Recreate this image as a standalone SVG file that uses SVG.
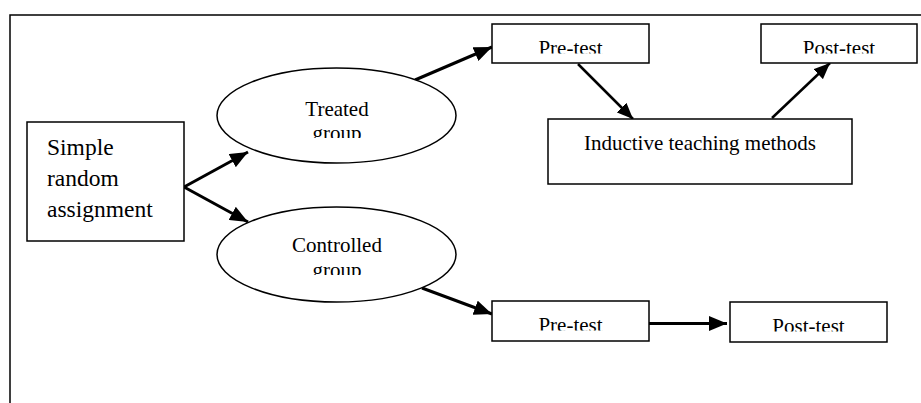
<svg xmlns="http://www.w3.org/2000/svg" width="921" height="403" viewBox="0 0 921 403">
<style>
.box{fill:#fff;stroke:#000;stroke-width:1.5}
.el{fill:#fff;stroke:#000;stroke-width:1.5}
.t{font-family:'Liberation Serif','DejaVu Serif',serif;font-size:21px;fill:#000;text-anchor:middle}
.tl{font-family:'Liberation Serif','DejaVu Serif',serif;font-size:23.5px;fill:#000}
.c{stroke:#000;stroke-width:3;fill:none;marker-end:url(#ah)}
.c2{stroke:#000;stroke-width:2.5;fill:none;marker-end:url(#ah2)}
</style>
<defs>
<marker id="ah" markerWidth="6" markerHeight="5" refX="6" refY="2.5" orient="auto" markerUnits="strokeWidth">
<path d="M0,0 L6,2.5 L0,5 Z" fill="#000"/>
</marker>
<marker id="ah2" markerWidth="6.5" markerHeight="5.5" refX="6.5" refY="2.75" orient="auto" markerUnits="strokeWidth">
<path d="M0,0 L6.5,2.75 L0,5.5 Z" fill="#000"/>
</marker>
<clipPath id="clT"><rect x="217" y="68" width="240" height="70"/></clipPath>
<clipPath id="clC"><rect x="217" y="207" width="240" height="68"/></clipPath>
<clipPath id="clP1"><rect x="492" y="24" width="157" height="29.5"/></clipPath>
<clipPath id="clQ1"><rect x="761" y="24" width="156" height="29.5"/></clipPath>
<clipPath id="clP2"><rect x="492" y="301" width="157" height="29.5"/></clipPath>
<clipPath id="clQ2"><rect x="730" y="302" width="157" height="29.5"/></clipPath>
</defs>
<rect x="0" y="0" width="921" height="403" fill="#fff"/>
<rect x="10" y="15" width="1000" height="500" fill="none" stroke="#000" stroke-width="1.5"/>
<g id="connectors">
<line class="c" x1="184" y1="187" x2="248" y2="152"/>
<line class="c" x1="184" y1="187" x2="248" y2="222"/>
<line class="c" x1="415" y1="80" x2="492" y2="47"/>
<line class="c2" x1="578" y1="64" x2="633" y2="119"/>
<line class="c2" x1="772" y1="118" x2="830" y2="63"/>
<line class="c" x1="422" y1="288" x2="492" y2="314"/>
<line class="c" x1="649" y1="323.5" x2="727" y2="323.5"/>
</g>
<g id="simple">
<rect class="box" x="27" y="122" width="157" height="119"/>
<text class="tl" x="47" y="155">Simple</text>
<text class="tl" x="47" y="186">random</text>
<text class="tl" x="47" y="217">assignment</text>
</g>
<g id="treated">
<ellipse class="el" cx="336.5" cy="115.5" rx="119.5" ry="47.5"/>
<g clip-path="url(#clT)">
<text class="t" x="337" y="116">Treated</text>
<text class="t" x="337" y="140">group</text>
</g>
</g>
<g id="controlled">
<ellipse class="el" cx="336.5" cy="254.5" rx="119.5" ry="47.5"/>
<g clip-path="url(#clC)">
<text class="t" x="337" y="252">Controlled</text>
<text class="t" x="337" y="277">group</text>
</g>
</g>
<g id="pretest1">
<rect class="box" x="492" y="24" width="157" height="39"/>
<text class="t" x="570.5" y="55" clip-path="url(#clP1)">Pre-test</text>
</g>
<g id="posttest1">
<rect class="box" x="761" y="24" width="156" height="39"/>
<text class="t" x="839" y="55" clip-path="url(#clQ1)">Post-test</text>
</g>
<g id="inductive">
<rect class="box" x="548" y="119" width="304" height="65"/>
<text class="t" x="700" y="150">Inductive teaching methods</text>
</g>
<g id="pretest2">
<rect class="box" x="492" y="301" width="157" height="40"/>
<text class="t" x="570.5" y="332" clip-path="url(#clP2)">Pre-test</text>
</g>
<g id="posttest2">
<rect class="box" x="730" y="302" width="157" height="40"/>
<text class="t" x="808.5" y="333" clip-path="url(#clQ2)">Post-test</text>
</g>
</svg>
